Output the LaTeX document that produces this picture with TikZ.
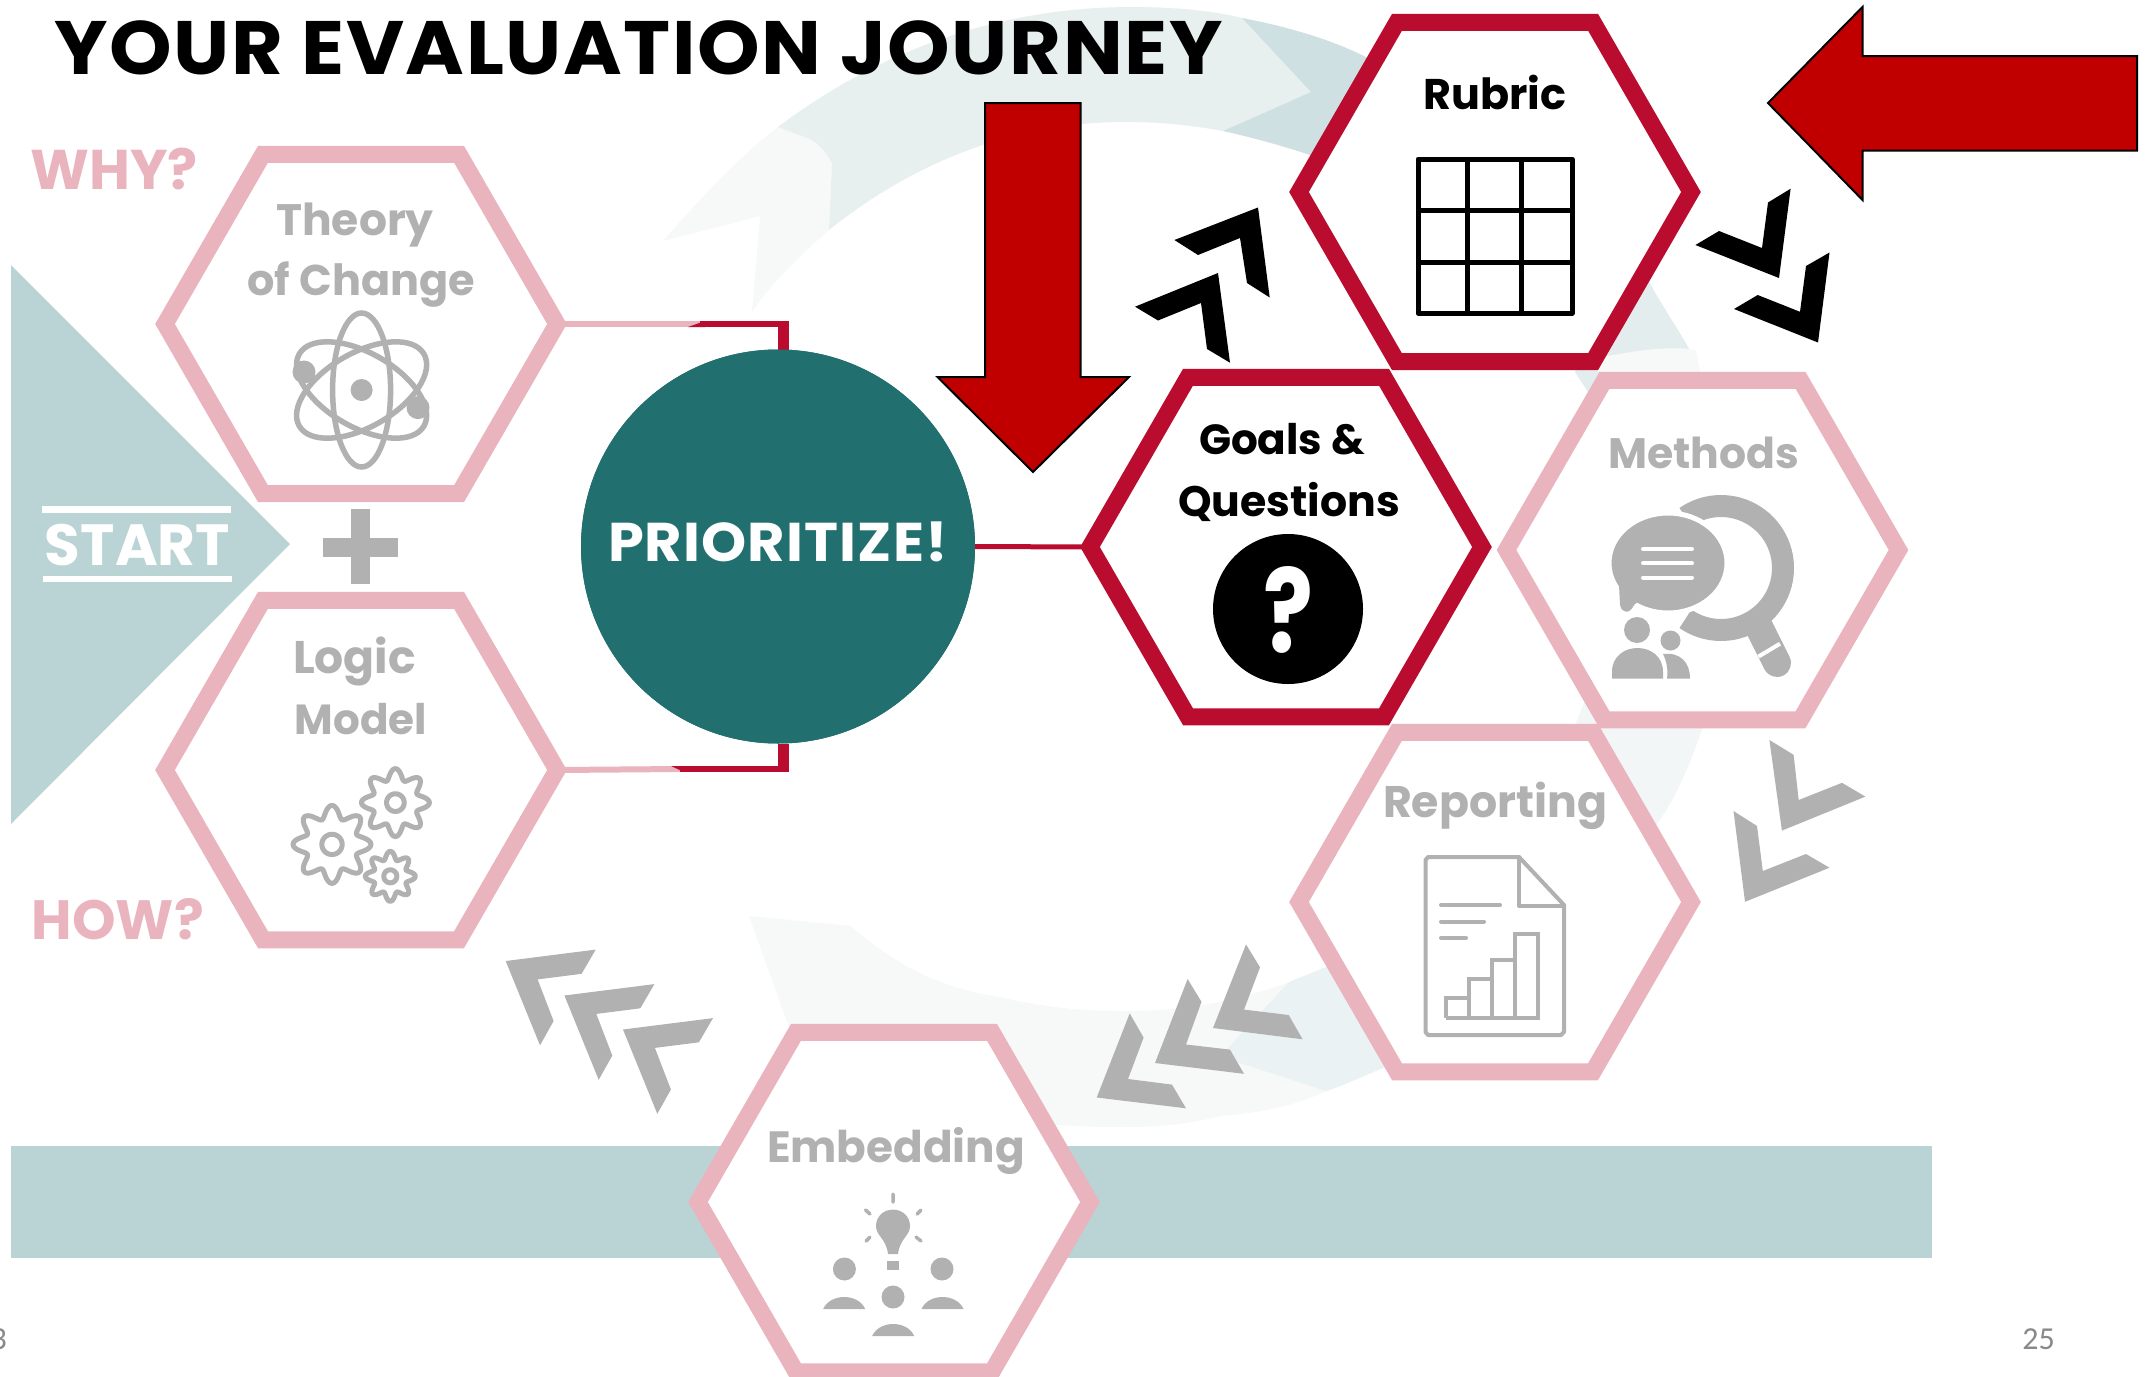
\documentclass[tikz,border=0pt]{standalone}
\usepackage{graphicx}
\usepackage{fontspec}
\setmainfont{Poppins}
\newfontfamily\pagefont{Carlito}
\usetikzlibrary{shapes.geometric}
\definecolor{hexpink}{HTML}{EAB4BF}
\definecolor{hexred}{HTML}{BA0C2F}
\definecolor{icongrey}{HTML}{B1B1B1}
\definecolor{paleteal}{HTML}{BAD3D4}
\definecolor{deepteal}{HTML}{226F70}
\definecolor{arrowred}{HTML}{C00000}
\definecolor{swirlA}{HTML}{F6F9F8}
\definecolor{swirlB}{HTML}{E8F0EF}
\definecolor{swirlC}{HTML}{CEE0E2}
\definecolor{swirlD}{HTML}{E4EDED}
\definecolor{swirlE}{HTML}{F2F6F6}
\definecolor{swirlG}{HTML}{EBF2F3}
\definecolor{pagegrey}{HTML}{898989}
\tikzset{
  hexbase/.style={regular polygon,regular polygon sides=6,minimum size=392pt,inner sep=0pt,outer sep=0pt,line width=17pt,fill=white,line join=miter,miter limit=10},
  hexon/.style={hexbase,draw=hexred},
  hexoff/.style={hexbase,draw=hexpink},
  lab/.style={anchor=base,inner sep=0pt,outer sep=0pt},
  bigarrow/.style={fill=arrowred,draw=black,line width=2pt,line join=miter},
  chevblack/.style={fill=black},
  chevgrey/.style={fill=icongrey},
  igrey/.style={draw=icongrey,line width=4pt,line join=round,line cap=round},
}
\newcommand{\lbl}[6]{\node[lab,text=#5] (#1) at (#2,#3+1) {\resizebox{#4pt}{!}{\fontsize{40}{48}\selectfont\bfseries #6}};}
\newcommand{\lbls}[6]{\node[lab,text=#5] (#1) at (#2,#3) {\scalebox{1}[0.95]{\resizebox{#4pt}{!}{\fontsize{40}{48}\selectfont\bfseries\addfontfeature{LetterSpace=2} #6}}};}
\newcommand{\gearicon}[3]{\draw[draw=icongrey,line width=5pt,line join=round] plot[domain=0:360,samples=121] ({#1+#3*(0.84+0.16*cos(8*\x))*cos(\x)},{#2+#3*(0.84+0.16*cos(8*\x))*sin(\x)}) -- cycle;
  \draw[draw=icongrey,line width=5pt] plot[domain=0:360,samples=41] ({#1+#3*0.26*cos(\x)},{#2+#3*0.26*sin(\x)}) -- cycle;}
\begin{document}
\begin{tikzpicture}[x=1pt,y=-1pt]
\useasboundingbox (0,0) rectangle (2149,1376);
\fill[white] (0,0) rectangle (2149,1376);
% background swirl
\fill[swirlA] (663,241) .. controls (695,205) and (735,160) .. (778,127) -- (807,138) .. controls (815,140) and (825,150) .. (832,163) -- (829,230) .. controls (795,260) and (770,285) .. (752,312) -- (760,216) -- cycle;
\fill[swirlB] (778,127) .. controls (880,50) and (1000,7) .. (1132,7) .. controls (1170,7) and (1210,10) .. (1242,18) -- (1311,92) -- (1223,131) .. controls (1190,125) and (1160,122) .. (1125,122) .. controls (1010,122) and (910,165) .. (829,230) -- (832,163) .. controls (825,150) and (815,140) .. (807,138) -- cycle;
\fill[swirlC] (1242,18) .. controls (1290,27) and (1340,42) .. (1375,62) -- (1400,120) -- (1310,155) .. controls (1280,145) and (1250,137) .. (1223,131) -- (1311,92) -- cycle;
\fill[swirlD] (1648,280) .. controls (1670,320) and (1690,345) .. (1700,372) -- (1590,395) -- (1575,372) -- (1600,250) -- cycle;
\fill[swirlA] (1597,358) .. controls (1630,352) and (1665,345) .. (1696,350) -- (1700,372) -- (1597,372) -- cycle;
\fill[swirlE] (1703,726) .. controls (1690,765) and (1675,800) .. (1656,825) -- (1590,760) -- (1575,725) -- (1590,690) -- (1703,680) -- cycle;
\fill[swirlA] (749,916) -- (851,926) .. controls (900,970) and (950,990) .. (1000,997) .. controls (1045,1008) and (1085,1011) .. (1125,1011) .. controls (1160,1011) and (1190,1008) .. (1220,1002) .. controls (1255,993) and (1290,985) .. (1326,967) -- (1388,1066) .. controls (1365,1075) and (1345,1085) .. (1326,1091) .. controls (1290,1108) and (1255,1113) .. (1220,1116) .. controls (1190,1124) and (1160,1127) .. (1125,1127) .. controls (1090,1127) and (1060,1126) .. (1029,1122) -- (1000,1100) -- (790,1030) -- cycle;
\fill[swirlG] (1289,982) -- (1326,967) -- (1388,980) -- (1388,1066) .. controls (1365,1075) and (1345,1085) .. (1326,1091) -- (1231,1060) -- (1227,1049) -- cycle;
% flat shapes
\fill[paleteal] (11,265) -- (290,544) -- (11,824) -- cycle;
\fill[paleteal] (11,1146) rectangle (1932,1258);
% title
\lbls{title}{638.5}{74}{1168}{black}{YOUR EVALUATION JOURNEY}
% hexagons
\node[hexoff] (theory) at (361,324) {};
\node[hexoff] (logic) at (361,770) {};
\node[hexoff] (methods) at (1702.5,550) {};
\node[hexoff] (reporting) at (1495,902) {};
\node[hexoff] (embedding) at (894,1202) {};
\node[hexon] (rubric) at (1495,192) {};
\node[hexon] (goals) at (1286,547) {};
\node[circle,fill=deepteal,minimum size=394pt,inner sep=0pt,outer sep=0pt] (prio) at (778,546.5) {};
% connectors
\coordinate (tredstart) at (700,324);
\coordinate (tcorner) at (789,324);
\coordinate (tvert) at (783.5,321);
\coordinate (bredstart) at (680,769);
\coordinate (bcorner) at (789,769);
\coordinate (bvert) at (783.5,772);
\draw[hexpink,line width=6pt] (theory.east) -- (tredstart);
\draw[hexpink,line width=6pt] (logic.east) -- (bredstart);
\fill[hexred] (688,327) -- (705,321) -- (705,327) -- cycle;
\fill[hexred] (671,766) -- (684,772) -- (684,766) -- cycle;
\draw[hexred,line width=6pt] (tredstart) -- (tcorner);
\draw[hexred,line width=6pt] (bredstart) -- (bcorner);
\draw[hexred,line width=11pt] (tvert) -- (tvert |- prio.north);
\draw[hexred,line width=11pt] (bvert) -- (bvert |- prio.south);
\draw[hexred,line width=5pt] (prio.east) -- (goals.west);
\fill[deepteal] (prio) circle (197);
% plus
\fill[icongrey] (351,509) rectangle (370,584);
\fill[icongrey] (323,537.5) rectangle (398,557);
% red arrows
\draw[bigarrow] (985,103) -- (1080.6,103) -- (1080.6,377) -- (1129,377) -- (1033,472) -- (937.5,377) -- (985,377) -- cycle;
\draw[bigarrow] (2137,56) -- (1862.5,56) -- (1862.5,7) -- (1768,103) -- (1862.5,200) -- (1862.5,150.6) -- (2137,150.6) -- cycle;
% black chevrons
\fill[chevblack] (1174.4,240) -- (1258,207.5) -- (1269.7,297.5) -- (1247,283) -- (1240,238) -- (1198,255) -- cycle;
\fill[chevblack] (1135,306.7) -- (1218,273) -- (1230,362.7) -- (1207,349) -- (1201,303) -- (1158,320.5) -- cycle;
\fill[chevblack] (1790.6,188.7) -- (1779,278) -- (1695.4,245) -- (1719,231) -- (1762,248) -- (1768,202.5) -- cycle;
\fill[chevblack] (1829.5,252.5) -- (1818,342.5) -- (1734,309) -- (1757.7,295) -- (1800,311.8) -- (1806,266) -- cycle;
% grey chevrons
\fill[chevgrey] (1769.4,740) -- (1781.9,830.6) -- (1865.4,796.6) -- (1842,782.8) -- (1798.7,800) -- (1793.6,754.8) -- cycle;
\fill[chevgrey] (1733.5,811) -- (1745,901.8) -- (1829.5,867.7) -- (1806,854) -- (1762.8,871) -- (1757,826) -- cycle;
\fill[chevgrey] (1246,944.4) -- (1260,967.3) -- (1244,1009.6) -- (1288.7,1015) -- (1302.6,1039.3) -- (1213,1028) -- cycle;
\fill[chevgrey] (1187.6,979) -- (1201.5,1001.8) -- (1186,1044.5) -- (1230,1049.6) -- (1244,1073.8) -- (1155,1063) -- cycle;
\fill[chevgrey] (1129.7,1013.4) -- (1143.6,1037.6) -- (1128,1079) -- (1172,1084.6) -- (1186,1108.3) -- (1096.7,1097.5) -- cycle;
\foreach \dx/\dy in {0/0,58.7/34.5,117.3/68.5}{
  \begin{scope}[shift={(\dx,\dy)}]
  \fill[chevgrey] (505.7,961) -- (595.7,949.6) -- (581.6,973.8) -- (537.6,979.4) -- (553.6,1021) -- (540,1045.3) -- cycle;
  \end{scope}}
% labels
\lbl{why}{114.3}{188}{167.4}{hexpink}{WHY?}
\lbl{how}{118}{938}{172}{hexpink}{HOW?}
\lbl{start}{137.5}{564}{185}{white}{START}
\fill[white] (42,506) rectangle (231,513);
\fill[white] (43,575.5) rectangle (232,582);
\lbls{prioritize}{778}{561}{340}{white}{PRIORITIZE!}
\lbl{tc1}{355}{234}{157.5}{icongrey}{Theory}
\lbl{tc2}{361.4}{294.6}{227.6}{icongrey}{of Change}
\lbl{lm1}{354.6}{672}{123}{icongrey}{Logic}
\lbl{lm2}{361}{733.6}{132.4}{icongrey}{Model}
\lbl{rb}{1495}{108}{143}{black}{Rubric}
\lbl{gq1}{1282}{453.6}{166}{black}{Goals \&}
\lbl{gq2}{1289}{515}{222}{black}{Questions}
\lbl{mt}{1703.5}{467}{191}{icongrey}{Methods}
\lbl{rp}{1495}{816.4}{224}{icongrey}{Reporting}
\lbl{em}{896}{1161}{258}{icongrey}{Embedding}
\node[anchor=base,inner sep=0pt,text=pagegrey,font=\pagefont\fontsize{32}{36}\selectfont] (pg) at (2038.6,1349) {25};
\node[anchor=base east,inner sep=0pt,text=pagegrey,font=\pagefont\fontsize{32}{36}\selectfont] (pgl) at (7,1349) {3};
% atom icon
\begin{scope}[shift={(361.6,390)}]
\draw[icongrey,line width=5.5pt] (0,0) ellipse (29 and 77);
\foreach \a in {60,-60}{\draw[icongrey,line width=5.5pt,rotate=\a] (0,0) ellipse (37 and 72);}
\fill[icongrey] (0,0) circle (11);
\fill[icongrey] (-57.6,-18) circle (11.5);
\fill[icongrey] (56.4,17.6) circle (11.5);
\end{scope}
% gears
\gearicon{332}{844.4}{39}
\gearicon{395.4}{802.6}{34}
\gearicon{390.3}{876.3}{25}
% rubric grid
\draw[black,line width=5pt,line join=round] (1418,159) rectangle (1572,313);
\draw[black,line width=5pt] (1467.5,159) -- (1467.5,313) (1521,159) -- (1521,313) (1418,210) -- (1572,210) (1418,262) -- (1572,262);
% question
\fill[black] (1288,609) circle (75);
\node[anchor=base,inner sep=0pt,text=white] (qm) at (1288,652) {\resizebox{50pt}{86pt}{\fontsize{120}{130}\selectfont\bfseries ?}};
% methods icon
\draw[icongrey,line width=28pt,line cap=round] (1758,625) -- (1777,663);
\draw[white,line width=4pt] (1758.4,656.6) -- (1780,643.7);
\draw[icongrey,line width=22pt] plot[domain=-125:125,samples=60] ({1721+62*cos(\x)},{568-62*sin(\x)});
\fill[icongrey,draw=white,line width=5pt] (1668,563) ellipse (59 and 50);
\fill[icongrey] (1619,585) -- (1620,605) .. controls (1622,614) and (1630,614) .. (1634,605) -- (1645,595) -- cycle;
\draw[white,line width=4pt,line cap=round] (1643,549) -- (1692,549) (1643,563.3) -- (1692,563.3) (1643,577.6) -- (1692,577.6);
\fill[icongrey] (1637,630) circle (13);
\fill[icongrey] (1612,678.6) -- (1612,672) .. controls (1612,640) and (1663,640) .. (1663,672) -- (1663,678.6) -- cycle;
\fill[icongrey] (1670.5,640.5) circle (10);
\fill[icongrey] (1663,654) .. controls (1680,652) and (1690,662) .. (1690,678.6) -- (1667,678.6) .. controls (1668,670) and (1667,662) .. (1663,654) -- cycle;
% report icon
\draw[igrey] (1519,857) -- (1428,857) -- (1425.5,860) -- (1425.5,1032) -- (1428,1035) -- (1561,1035) -- (1564,1032) -- (1564,905) -- cycle;
\draw[igrey] (1519,857) -- (1519,906) -- (1564,906);
\draw[igrey] (1441,905) -- (1500,905) (1441,921.6) -- (1484,921.6) (1441,938) -- (1466,938);
\draw[icongrey,line width=4pt,line join=miter] (1445.5,1018) -- (1445.5,997.5) -- (1469,997.5) -- (1469,1018) (1469,997.5) -- (1469,979.4) -- (1491.7,979.4) -- (1491.7,1018) (1491.7,979.4) -- (1491.7,960.4) -- (1515,960.4) -- (1515,1018) (1515,960.4) -- (1515,934) -- (1538,934) -- (1538,1018) -- (1445.5,1018);
% embedding icon
\fill[icongrey] (893,1209.6) .. controls (883,1209.6) and (876,1217) .. (876,1226) .. controls (876,1236) and (886,1238) .. (888,1254) -- (898,1254) .. controls (900,1238) and (910,1236) .. (910,1226) .. controls (910,1217) and (903,1209.6) .. (893,1209.6) -- cycle;
\fill[icongrey] (887,1260.5) rectangle (899,1270);
\draw[icongrey,line width=3.5pt,line cap=round] (893,1194) -- (893,1202) (865.5,1210) -- (870,1214) (921,1210) -- (917,1214) (866,1241) -- (870,1237) (921,1241) -- (916,1237);
\foreach \hx/\hy in {844.4/1269,942/1269,893/1297}{\fill[icongrey] (\hx,\hy) circle (11.5);}
\foreach \bx/\by in {844.2/1309,942.5/1309,893.2/1336}{\fill[icongrey] (\bx-21,\by) .. controls (\bx-14,\by-16) and (\bx+14,\by-16) .. (\bx+21,\by) -- cycle;}
\end{tikzpicture}
\end{document}
